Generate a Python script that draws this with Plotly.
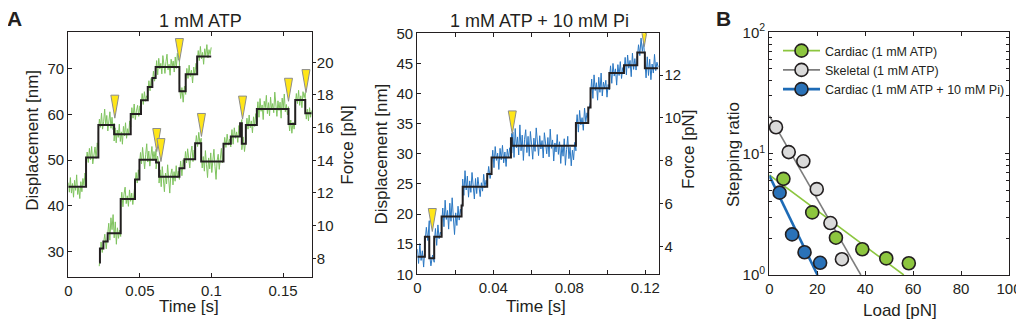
import numpy as np
import plotly.graph_objects as go

# ---------------- Panel A (left): 1 mM ATP ----------------
# step-fit of the upper trace (segment edges in s, levels in nm)
up_t = [0, 0.0124, 0.021, 0.032, 0.0436, 0.0508, 0.0555, 0.0587, 0.061, 0.0776, 0.082, 0.090, 0.0998]
up_lv = [44.2, 50.6, 57.7, 55.7, 60.1, 63.1, 66.0, 68.0, 70.4, 65.1, 68.8, 72.7]
# raw displacement samples of the upper trace, one list per fitted segment
up_raw = [
    [45.1, 43.0, 46.2, 42.8, 44.9, 41.9, 45.6, 43.4, 46.8, 42.5, 44.0, 41.6, 45.3, 43.1, 46.0, 44.5, 47.2, 45.8],
    [48.9, 51.8, 49.5, 52.6, 50.1, 53.0, 49.2, 51.5, 52.9, 50.4, 53.8, 52.2],
    [56.1, 59.0, 57.2, 60.3, 56.8, 58.4, 61.2, 57.5, 59.8, 56.4, 58.9, 60.6, 57.0, 59.4, 56.7, 58.1],
    [54.2, 57.1, 53.8, 56.6, 55.0, 57.9, 54.1, 56.2, 53.5, 57.4, 55.3, 58.2, 54.8, 56.9, 55.5, 58.6, 57.3],
    [58.4, 61.5, 59.2, 62.3, 58.9, 60.8, 62.0, 59.6, 61.9, 60.7],
    [61.8, 64.6, 62.2, 65.0, 62.9, 64.1, 63.5],
    [64.6, 67.4, 65.2, 67.9, 66.3],
    [66.7, 69.5, 67.3, 69.0],
    [69.1, 71.8, 68.7, 72.3, 70.0, 71.2, 68.9, 72.9, 70.3, 69.0, 71.6, 73.2, 69.8, 71.0, 68.6, 72.1, 70.5, 71.7, 69.3, 72.6, 70.1, 73.4, 71.9, 72.8],
    [66.8, 63.5, 65.9, 62.7, 66.2, 64.4],
    [67.2, 70.1, 67.9, 70.8, 68.3, 69.7, 66.9, 70.4, 68.6, 71.2, 69.9],
    [71.3, 74.0, 71.8, 74.9, 72.2, 73.6, 71.0, 74.4, 72.9, 75.3, 72.4, 74.2, 73.1, 74.7],
]
# lower trace
lo_t = [0.0216, 0.0221, 0.0245, 0.0275, 0.0366, 0.0466, 0.0497, 0.0613, 0.0634, 0.0776, 0.0811, 0.0886,
        0.0928, 0.1084, 0.1135, 0.120, 0.1212, 0.124, 0.1317, 0.1538, 0.1585, 0.1655, 0.170]
lo_lv = [27.6, 30.7, 32.2, 34.0, 41.5, 45.8, 50.1, 49.5, 46.4, 48.25, 50.2, 53.7, 49.7, 53.6, 55.2, 58.1,
         53.6, 57.7, 61.2, 57.9, 63.2, 60.3]
lo_raw = [
    [26.8, 28.4],
    [29.0, 32.1, 29.8, 31.6],
    [31.0, 33.8, 30.6, 34.5],
    [33.1, 36.2, 32.5, 37.4, 34.8, 38.1, 33.0, 36.5, 31.6, 35.2, 32.9, 34.7, 33.3],
    [40.2, 43.0, 39.8, 42.6, 44.1, 40.5, 42.2, 39.9, 43.5, 41.0, 42.8, 40.3, 43.3, 44.4],
    [44.5, 47.3, 45.0, 47.9, 46.2],
    [48.9, 51.7, 49.2, 52.8, 50.5, 48.1, 51.3, 53.6, 49.6, 52.0, 48.7, 51.1, 53.0, 49.9, 51.9, 50.2, 52.4],
    [48.1, 50.9, 48.8],
    [45.0, 47.9, 44.2, 48.6, 45.7, 43.1, 47.2, 44.8, 49.0, 45.3, 42.8, 46.9, 48.1, 44.6, 47.5, 45.4, 48.8, 46.2, 47.6, 45.8],
    [47.0, 49.8, 46.6, 50.1, 48.7],
    [48.8, 51.9, 49.4, 52.5, 50.0, 48.3, 51.6, 53.1, 49.7, 52.2, 51.4],
    [52.5, 55.4, 53.0, 56.1, 53.6, 54.8],
    [51.2, 48.3, 50.8, 47.6, 52.1, 49.0, 46.2, 50.5, 48.1, 51.6, 47.3, 50.0, 52.4, 48.6, 45.8, 49.9, 51.3, 48.0, 50.7, 52.6, 49.4, 51.8],
    [52.2, 55.0, 52.8, 55.7, 53.3, 54.6, 52.9],
    [54.0, 56.7, 53.5, 57.1, 54.8, 56.2, 53.9, 57.6, 55.6],
    [57.0, 58.9],
    [52.3, 55.1, 51.9, 54.7],
    [56.3, 59.2, 56.8, 59.9, 57.1, 58.6, 56.0, 59.5, 57.4, 60.2, 58.3],
    [60.0, 62.8, 59.4, 63.5, 60.7, 62.1, 58.9, 62.9, 61.5, 64.2, 60.2, 62.6, 59.7, 63.8, 61.0, 62.4, 60.4, 64.9,
     61.8, 59.6, 63.0, 60.9, 62.7, 59.2, 63.6, 61.3, 64.5, 60.6, 62.2, 59.9, 61.7],
    [59.2, 56.4, 58.8, 55.9, 58.3, 56.8, 59.0],
    [61.9, 64.6, 62.4, 65.3, 62.0, 64.1, 61.5, 65.0, 63.7, 64.8],
    [61.8, 59.0, 61.2, 58.6, 61.5, 59.4, 60.9],
]
# backward-step markers (time, displacement at arrow tip)
a_tri_t = [0.0325, 0.0776, 0.0618, 0.0647, 0.0930, 0.1217, 0.1538, 0.1660]
a_tri_d = [59.2, 71.6, 51.9, 49.7, 55.2, 59.0, 62.9, 64.8]

# ---------------- Panel A (right): 1 mM ATP + 10 mM Pi ----------------
bl_t = [0, 0.0040, 0.0063, 0.0089, 0.0128, 0.0233, 0.0239, 0.0368, 0.0391, 0.0493, 0.0497, 0.0835, 0.0900,
        0.0912, 0.1011, 0.1088, 0.1158, 0.1198, 0.1268]
bl_lv = [12.9, 16.25, 12.65, 16.25, 19.6, 21.4, 24.55, 26.65, 29.4, 32.6, 31.35, 35.1, 37.7, 40.9, 43.4, 44.7, 46.8, 44.2]
bl_raw = [
    [14.2, 11.8, 15.1, 12.3, 13.9, 11.2, 14.6],
    [15.0, 17.8, 15.6, 18.9],
    [13.8, 11.4, 13.2, 12.0],
    [15.1, 17.6, 14.8, 18.2, 15.9, 17.0, 16.4],
    [18.4, 21.0, 17.9, 22.3, 19.1, 20.6, 17.5, 21.8, 18.8, 22.7, 19.4, 16.6, 20.2, 18.1, 21.3, 19.0, 20.8, 19.9],
    [20.6, 22.2],
    [25.8, 23.1, 27.2, 24.0, 26.3, 22.8, 25.5, 23.6, 26.9, 24.2, 22.5, 25.9, 23.4, 26.1, 24.8, 22.9, 25.2, 23.8, 26.6, 24.4, 25.6, 24.9],
    [25.4, 27.9, 25.9, 27.3],
    [28.2, 30.6, 27.7, 31.2, 28.9, 30.1, 27.4, 30.9, 29.0, 31.4, 28.5, 30.3, 27.9, 30.8, 29.3, 31.0, 30.2],
    [31.4, 33.4],
    [30.1, 33.6, 29.4, 34.2, 31.0, 32.8, 29.8, 34.8, 30.5, 33.1, 28.9, 32.4, 34.0, 30.2, 32.9, 29.6, 33.7, 31.5,
     29.1, 32.6, 30.4, 34.3, 31.2, 29.7, 33.0, 30.8, 32.2, 29.3, 33.5, 31.6, 30.0, 32.7, 29.5, 34.1, 30.9, 32.3,
     28.8, 31.8, 30.3, 33.2, 29.9, 32.0, 28.4, 31.4, 29.6, 32.5, 28.1, 30.7, 32.9, 29.2, 31.1, 28.0, 30.6, 29.0, 31.9, 30.5],
    [34.0, 36.5, 33.6, 37.2, 34.8, 36.0, 33.9, 37.6, 35.3, 36.8, 35.9],
    [36.9, 38.6],
    [39.8, 42.4, 39.2, 43.1, 40.5, 41.8, 38.9, 42.7, 40.2, 43.4, 39.6, 41.9, 40.8, 42.2, 39.4, 41.5, 40.6],
    [42.2, 44.6, 41.7, 45.0, 42.9, 44.1, 41.4, 44.8, 43.0, 45.3, 42.5, 44.3, 43.6],
    [43.6, 46.0, 43.1, 46.4, 44.2, 45.5, 42.8, 46.7, 44.0, 45.8, 43.9, 46.2],
    [45.9, 48.1, 46.3, 49.2, 47.0, 48.6, 46.2],
    [45.3, 42.6, 46.1, 43.0, 45.7, 42.3, 44.9, 43.4, 46.5, 43.8, 45.2, 44.4],
]
b_tri_t = [0.0079, 0.0500, 0.1195]
b_tri_d = [17.1, 33.3, 47.8]

# ---------------- Panel B: stepping ratio vs load ----------------
card_load = [5.9, 17.9, 27.8, 38.8, 48.8, 58.2]
card_ratio = [6.2, 3.28, 2.03, 1.63, 1.37, 1.25]
skel_load = [2.8, 8.1, 14.2, 19.8, 25.5, 30.3]
skel_ratio = [16.5, 10.3, 8.65, 5.1, 2.68, 1.35]
pi_load = [4.3, 9.5, 14.7, 21.2]
pi_ratio = [4.77, 2.16, 1.54, 1.26]
card_fit_x, card_fit_y = [0, 56.1], [6.67, 1.0]
skel_fit_x, skel_fit_y = [0, 38.2], [20.6, 1.0]
pi_fit_x, pi_fit_y = [0, 20.1], [6.59, 1.0]
legend_names = ["Cardiac (1 mM ATP)", "Skeletal (1 mM ATP)", "Cardiac (1 mM ATP + 10 mM Pi)"]

# ---------------- styling ----------------
FONT = "Liberation Sans, Arial, Helvetica, sans-serif"
INK = "#231f20"
GREEN_RAW = "#7fc35f"
BLUE_RAW = "#2a77c2"
TRI_FILL = "#ffe619"
TRI_LINE = "#8c8c8c"
TW, TH = 8, 23
# the page body adds an 8 px margin, so the figure is drawn 8 px in from the window's corner
OFF = 8
W, H = 1024 - OFF, 320 - OFF


def px(x):
    return (x - OFF) / W


def py(y):
    return 1 - (y - OFF) / H


def raw_series(edges, segs):
    xs, ys = [], []
    for i, vals in enumerate(segs):
        xs.extend(np.linspace(edges[i], edges[i + 1], len(vals)).tolist())
        ys.extend(vals)
    return xs, ys


fig = go.Figure()

# Panel A-left traces
for edges, segs, lv in [(up_t, up_raw, up_lv), (lo_t, lo_raw, lo_lv)]:
    xs, ys = raw_series(edges, segs)
    fig.add_trace(go.Scatter(x=xs, y=ys, mode="lines", line=dict(color=GREEN_RAW, width=1),
                             xaxis="x", yaxis="y", showlegend=False, hoverinfo="skip"))
    fig.add_trace(go.Scatter(x=edges, y=lv + [lv[-1]], mode="lines", line=dict(color=INK, width=2, shape="hv"),
                             xaxis="x", yaxis="y", showlegend=False, hoverinfo="skip"))
fig.add_trace(go.Scatter(x=[None], y=[None], xaxis="x", yaxis="y2", showlegend=False, hoverinfo="skip"))

# Panel A-right traces
xs, ys = raw_series(bl_t, bl_raw)
fig.add_trace(go.Scatter(x=xs, y=ys, mode="lines", line=dict(color=BLUE_RAW, width=1),
                         xaxis="x2", yaxis="y3", showlegend=False, hoverinfo="skip"))
fig.add_trace(go.Scatter(x=bl_t, y=bl_lv + [bl_lv[-1]], mode="lines", line=dict(color=INK, width=2, shape="hv"),
                         xaxis="x2", yaxis="y3", showlegend=False, hoverinfo="skip"))
fig.add_trace(go.Scatter(x=[None], y=[None], xaxis="x2", yaxis="y4", showlegend=False, hoverinfo="skip"))

# Panel B
series_b = [
    (card_load, card_ratio, card_fit_x, card_fit_y, "#8dc63f", "#8cc63f", 1.6),
    (skel_load, skel_ratio, skel_fit_x, skel_fit_y, "#dadada", "#7d7d7d", 1.6),
    (pi_load, pi_ratio, pi_fit_x, pi_fit_y, "#2a72b8", "#1d6bb6", 2.6),
]
for (lx, ly, fx, fy, mfill, lcol, lw) in series_b:
    fig.add_trace(go.Scatter(x=fx, y=fy, mode="lines", line=dict(color=lcol, width=lw),
                             xaxis="x3", yaxis="y5", showlegend=False, hoverinfo="skip"))
for (lx, ly, fx, fy, mfill, lcol, lw), name in zip(series_b, legend_names):
    fig.add_trace(go.Scatter(x=lx, y=ly, mode="markers",
                             marker=dict(size=13, color=mfill, line=dict(color=INK, width=1.6)),
                             xaxis="x3", yaxis="y5", showlegend=False, hoverinfo="skip", cliponaxis=False))
for (lx, ly, fx, fy, mfill, lcol, lw), name in zip(series_b, legend_names):
    fig.add_trace(go.Scatter(x=[None], y=[None], mode="lines+markers", name=name,
                             line=dict(color=lcol, width=lw),
                             marker=dict(size=13, color=mfill, line=dict(color=INK, width=1.6)),
                             xaxis="x3", yaxis="y5", showlegend=True))

# triangles (backward steps)
shapes = []
for tt, dd, xr, yr in [(a_tri_t, a_tri_d, "x", "y"), (b_tri_t, b_tri_d, "x2", "y3")]:
    for t, d in zip(tt, dd):
        shapes.append(dict(type="path", xref=xr, yref=yr, xsizemode="pixel", ysizemode="pixel",
                           xanchor=t, yanchor=d,
                           path=f"M{-TW/2},{TH} L{TW/2},{TH} L0,0 Z",
                           fillcolor=TRI_FILL, line=dict(color=TRI_LINE, width=1), layer="above"))

TICKF = dict(family=FONT, size=15, color=INK)
common = dict(showline=True, linecolor=INK, linewidth=1.3, ticks="inside", ticklen=4, tickwidth=1,
              tickcolor=INK, showgrid=False, zeroline=False, tickfont=TICKF, automargin=False)
right_ax = dict(common, ticks="outside", ticklen=3, ticklabelstandoff=-2)

fig.update_layout(
    width=W, height=H, margin=dict(l=0, r=0, t=0, b=0, pad=0, autoexpand=False),
    paper_bgcolor="white", plot_bgcolor="rgba(0,0,0,0)",
    font=dict(family=FONT, color=INK),
    xaxis=dict(domain=[px(68.3), px(311.7)], range=[0, 0.17], anchor="y", mirror="ticks",
               tickvals=[0, 0.05, 0.1, 0.15], ticktext=["0", "0.05", "0.1", "0.15"], **common),
    yaxis=dict(domain=[py(276.7), py(32.3)], range=[24.5, 78], anchor="x",
               tickvals=[30, 40, 50, 60, 70], **common),
    yaxis2=dict(overlaying="y", side="right", anchor="x", range=[6.87, 21.84],
                tickvals=[8, 10, 12, 14, 16, 18, 20], **right_ax),
    xaxis2=dict(domain=[px(417.3), px(659.3)], range=[0, 0.1274], anchor="y3", mirror="ticks",
                tickvals=[0, 0.04, 0.08, 0.12], ticktext=["0", "0.04", "0.08", "0.12"],
                minor=dict(ticks="inside", ticklen=4, tickcolor=INK, tickvals=[0.02, 0.06, 0.10]),
                **common),
    yaxis3=dict(domain=[py(274.3), py(33.3)], range=[10, 50], anchor="x2",
                tickvals=[10, 15, 20, 25, 30, 35, 40, 45, 50], **common),
    yaxis4=dict(overlaying="y3", side="right", anchor="x2", range=[2.71, 13.95],
                tickvals=[4, 6, 8, 10, 12], **right_ax),
    xaxis3=dict(domain=[px(769.3), px(1009)], range=[0, 100], anchor="y5", mirror="ticks",
                tickvals=[0, 20, 40, 60, 80, 100], **common),
    yaxis5=dict(domain=[py(275), py(32.3)], type="log", range=[0, 2], anchor="x3", mirror="ticks",
                tickvals=[1, 10, 100], ticktext=["10<sup>0</sup>", "10<sup>1</sup>", "10<sup>2</sup>"],
                minor=dict(ticks="inside", ticklen=2.5, tickcolor=INK,
                           tickvals=[2, 3, 4, 5, 6, 7, 8, 9, 20, 30, 40, 50, 60, 70, 80, 90]),
                **common),
    legend=dict(x=px(778), y=py(36), xanchor="left", yanchor="top", bgcolor="rgba(0,0,0,0)",
                font=dict(family=FONT, size=12.5, color=INK), itemwidth=37, tracegroupgap=0),
    shapes=shapes,
)

ann = []
def label(x, y, text, size, angle=0, bold=False):
    ann.append(dict(x=px(x), y=py(y), xref="paper", yref="paper", text=f"<b>{text}</b>" if bold else text,
                    showarrow=False, textangle=angle, xanchor="center", yanchor="middle",
                    font=dict(family=FONT, size=size, color=INK)))

label(14, 18, "A", 21, bold=True)
label(723, 18, "B", 21, bold=True)
label(200, 21, "1 mM ATP", 18)
label(539, 21, "1 mM ATP + 10 mM Pi", 18)
label(31.7, 140, "Displacement [nm]", 17, angle=-90)
label(346.7, 145, "Force [pN]", 17, angle=-90)
label(380.5, 154, "Displacement [nm]", 17, angle=-90)
label(689, 150, "Force [pN]", 17, angle=-90)
label(733, 155, "Stepping ratio", 17, angle=-90)
label(189, 306, "Time [s]", 17)
label(536, 306, "Time [s]", 17)
label(900, 310, "Load [pN]", 17)
fig.update_layout(annotations=ann)

fig.write_html("out.html")
